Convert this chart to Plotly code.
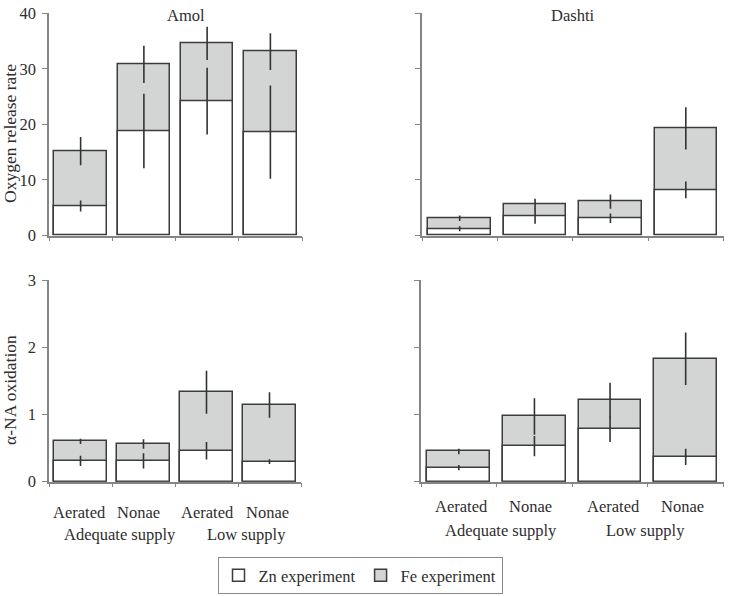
import plotly.graph_objects as go

W, H = 730, 596

categories = ["Aerated", "Nonae", "Aerated", "Nonae"]
groups = ["Adequate supply", "Low supply"]
sites = ["Amol", "Dashti"]

# Oxygen release rate
amol_o2_fe = [15.2, 30.8, 34.6, 33.1]
amol_o2_fe_err = [2.55, 3.35, 3.0, 3.3]
amol_o2_zn = [5.3, 18.8, 24.2, 18.6]
amol_o2_zn_err = [1.0, 6.7, 6.0, 8.4]

dashti_o2_fe = [3.1, 5.7, 6.1, 19.3]
dashti_o2_fe_err = [0.5, 0.9, 1.3, 3.8]
dashti_o2_zn = [1.2, 3.5, 3.1, 8.2]
dashti_o2_zn_err = [0.45, 1.4, 0.85, 1.5]

# alpha-NA oxidation
amol_na_fe = [0.60, 0.56, 1.33, 1.14]
amol_na_fe_err = [0.04, 0.07, 0.32, 0.19]
amol_na_zn = [0.31, 0.31, 0.46, 0.30]
amol_na_zn_err = [0.075, 0.115, 0.13, 0.035]

dashti_na_fe = [0.45, 0.97, 1.21, 1.83]
dashti_na_fe_err = [0.04, 0.27, 0.26, 0.39]
dashti_na_zn = [0.21, 0.53, 0.78, 0.37]
dashti_na_zn_err = [0.04, 0.15, 0.19, 0.12]

FONT = "Liberation Serif"
TXT = "#2e2e2e"
GRAY = "#d3d4d4"
EDGE = "#3c3c3c"
AXC = "#858585"
FS = 16.5

def px_x(p):
    return p / W

def px_y(p):
    return 1 - p / H

panels = [
    ("", amol_o2_fe, amol_o2_fe_err, amol_o2_zn, amol_o2_zn_err, (49, 302), (13.3, 235.5), [0, 40], 10, True),
    ("2", dashti_o2_fe, dashti_o2_fe_err, dashti_o2_zn, dashti_o2_zn_err, (422, 723.5), (13.3, 235.5), [0, 40], 10, False),
    ("3", amol_na_fe, amol_na_fe_err, amol_na_zn, amol_na_zn_err, (49, 301), (280, 481.7), [0, 3], 1, True),
    ("4", dashti_na_fe, dashti_na_fe_err, dashti_na_zn, dashti_na_zn_err, (421, 723.5), (280, 481.7), [0, 3], 1, False),
]

fig = go.Figure()
xpos = list(range(len(categories)))
layout_axes = {}
for i, (s, fe, fe_e, zn, zn_e, xd, yd, yr, dt, showlab) in enumerate(panels):
    xa = "x" + s
    ya = "y" + s
    fig.add_trace(go.Bar(
        x=xpos, y=fe, xaxis=xa, yaxis=ya, width=0.83,
        marker=dict(color=GRAY, line=dict(color=EDGE, width=1.5)),
        error_y=dict(type="data", array=fe_e, visible=True, width=0, thickness=1.6, color="#333333"),
        name="Fe experiment", legendgroup="fe", showlegend=(i == 0), legendrank=2,
    ))
    fig.add_trace(go.Bar(
        x=xpos, y=zn, xaxis=xa, yaxis=ya, width=0.83,
        marker=dict(color="white", line=dict(color=EDGE, width=1.5)),
        error_y=dict(type="data", array=zn_e, visible=True, width=0, thickness=1.6, color="#333333"),
        name="Zn experiment", legendgroup="zn", showlegend=(i == 0), legendrank=1,
    ))
    layout_axes["xaxis" + s] = dict(
        domain=[px_x(xd[0]), px_x(xd[1])], range=[-0.5, 3.5], anchor=ya,
        tickvals=[-0.5, 0.5, 1.5, 2.5, 3.5], ticks="outside", ticklen=4, tickwidth=1.2,
        tickcolor=AXC, showticklabels=False, showgrid=False, zeroline=False,
        showline=True, linecolor=AXC, linewidth=1.5,
    )
    layout_axes["yaxis" + s] = dict(
        domain=[px_y(yd[1]), px_y(yd[0])], range=yr, anchor=xa, dtick=dt,
        ticks="outside", ticklen=5, tickwidth=1.2, tickcolor=AXC,
        showticklabels=showlab, showgrid=False, zeroline=False,
        showline=True, linecolor=AXC, linewidth=1.5,
        tickfont=dict(family=FONT, size=FS, color=TXT), ticklabelstandoff=3,
    )

annotations = []
def ann(text, x, y, angle=0, size=FS):
    annotations.append(dict(text=text, x=px_x(x), y=px_y(y), xref="paper", yref="paper",
                            showarrow=False, xanchor="center", yanchor="middle", textangle=angle,
                            font=dict(family=FONT, size=size, color=TXT)))

ann(sites[0], 185.5, 15)
ann(sites[1], 572, 15)
ann("Oxygen release rate", 10, 134, angle=-90, size=17.5)
ann("α-NA oxidation", 10, 390, angle=-90, size=17.5)
for lab, x in zip(categories, [79, 138.5, 207, 267]):
    ann(lab, x, 512)
for lab, x in zip(groups, [119.5, 246]):
    ann(lab, x, 534)
for lab, x in zip(categories, [461.5, 530.5, 613, 682.5]):
    ann(lab, x, 506)
for lab, x in zip(groups, [500.5, 645]):
    ann(lab, x, 530)

fig.update_layout(
    width=W, height=H, margin=dict(l=0, r=0, t=0, b=0, autoexpand=False),
    paper_bgcolor="white", plot_bgcolor="white",
    barmode="overlay", bargap=0,
    font=dict(family=FONT, size=FS, color=TXT),
    annotations=annotations,
    showlegend=True,
    legend=dict(orientation="h", x=px_x(360), y=px_y(594), xanchor="center", yanchor="bottom",
                bordercolor="#8a8a8a", borderwidth=1, bgcolor="white",
                font=dict(family=FONT, size=FS, color=TXT),
                itemwidth=30, tracegroupgap=0, traceorder="normal"),
    **layout_axes,
)

fig.write_html("out.html")
